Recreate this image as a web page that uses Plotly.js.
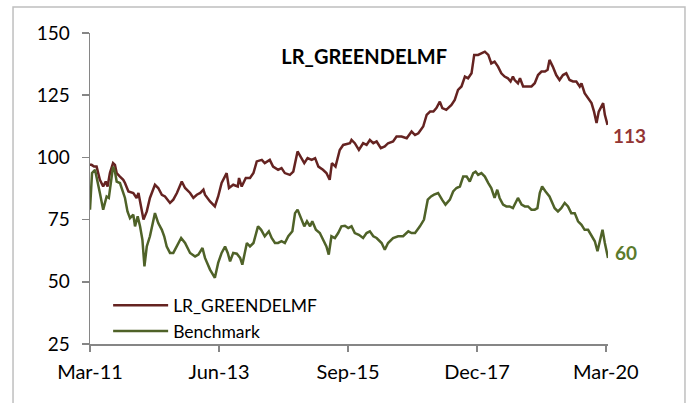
<!DOCTYPE html>
<html>
<head>
<meta charset="utf-8">
<script src="https://cdn.plot.ly/plotly-3.0.1.min.js"></script>
<style>html,body{margin:0;padding:0;background:#fff;}#chart{width:691px;height:403px;}</style>
</head>
<body>
<div id="chart"></div>
<script>
const fundName = "LR_GREENDELMF";
const benchName = "Benchmark";

const fundDates = ["2011-03-01","2011-03-11","2011-03-27","2011-04-12","2011-05-03","2011-05-24","2011-06-09","2011-06-21","2011-07-06","2011-07-26","2011-08-07","2011-08-18","2011-09-08","2011-09-29","2011-10-10","2011-11-01","2011-12-02","2011-12-23","2012-01-04","2012-01-20","2012-02-05","2012-02-26","2012-03-17","2012-04-18","2012-05-09","2012-06-01","2012-06-21","2012-07-23","2012-08-13","2012-09-05","2012-10-06","2012-10-27","2012-11-28","2012-12-19","2013-01-10","2013-02-01","2013-02-21","2013-03-03","2013-04-04","2013-05-05","2013-05-26","2013-06-17","2013-07-19","2013-08-03","2013-08-30","2013-09-28","2013-10-06","2013-10-23","2013-11-18","2013-12-15","2014-01-06","2014-01-27","2014-02-28","2014-03-19","2014-04-20","2014-05-11","2014-06-12","2014-07-04","2014-07-25","2014-08-26","2014-09-17","2014-10-14","2014-11-05","2014-11-26","2014-12-17","2015-01-12","2015-02-03","2015-02-24","2015-03-25","2015-04-16","2015-05-07","2015-05-21","2015-06-13","2015-07-10","2015-08-01","2015-09-13","2015-09-23","2015-10-14","2015-11-09","2015-12-06","2015-12-28","2016-01-18","2016-02-09","2016-03-01","2016-03-28","2016-04-22","2016-05-13","2016-06-14","2016-07-06","2016-08-07","2016-09-09","2016-10-10","2016-11-01","2016-11-22","2016-12-23","2017-01-14","2017-02-05","2017-02-26","2017-03-17","2017-04-08","2017-04-24","2017-05-19","2017-06-21","2017-07-12","2017-08-02","2017-08-24","2017-09-15","2017-10-05","2017-10-27","2017-11-13","2017-12-08","2017-12-29","2018-01-20","2018-02-11","2018-03-02","2018-03-23","2018-04-14","2018-05-05","2018-05-26","2018-06-16","2018-07-03","2018-07-18","2018-07-29","2018-08-19","2018-09-01","2018-09-21","2018-10-22","2018-11-13","2018-12-04","2018-12-25","2019-01-16","2019-02-07","2019-02-24","2019-03-08","2019-03-29","2019-04-20","2019-05-11","2019-06-02","2019-06-23","2019-07-14","2019-08-05","2019-08-26","2019-09-17","2019-09-28","2019-10-18","2019-11-09","2019-12-01","2019-12-17","2020-01-02","2020-01-16","2020-01-29","2020-02-13","2020-02-24","2020-03-12"];
const fundValues = [97,97.0,96.3,96.3,91,88.3,90.3,88.3,93.7,97.7,97,93.7,92.3,91,89.7,86.3,85.7,83.7,85.7,81,75,78.3,83.7,89,87.7,85,84.3,81.7,83,85.7,90.3,87.7,85.7,83.7,85,85.7,87,85,82.3,80.3,84.3,89.7,93.7,87.7,89,88.3,91.7,88.3,91.7,91.7,93.7,98.4,99,97.7,99,96.3,95,95.7,93.7,93,94.3,102.4,99.7,97.7,99.7,99,99.7,96.3,95,93.7,91,97.7,96.3,103,105,105.7,107,105.7,103,105.7,105,107,105.7,106.4,103.7,104.4,105.7,106.4,108.4,108.4,107.7,110.4,109,109.7,112.4,117.1,118.4,118.4,119.8,122.4,119.8,119.1,121.1,123.1,127.1,128.5,132.5,131.8,133.8,141.2,141.2,141.9,142.5,141.2,137.8,138.5,136.5,133.8,132.5,131.8,130.5,132.5,131.1,129.8,131.8,128.5,128.5,128.5,129.8,133.1,134.5,134.5,135.2,139.2,136.5,133.1,131.1,133.1,133.8,131.1,130.5,130.5,128.5,129.8,125.8,123.8,121.8,118.4,113.8,118.4,119.8,121.8,117.1,113.1];

const benchDates = ["2011-03-01","2011-03-14","2011-04-02","2011-04-12","2011-05-03","2011-05-24","2011-06-15","2011-06-29","2011-07-16","2011-07-26","2011-08-07","2011-08-18","2011-09-08","2011-09-29","2011-10-10","2011-10-26","2011-11-11","2011-12-02","2011-12-13","2011-12-30","2012-01-14","2012-01-29","2012-02-11","2012-02-26","2012-03-17","2012-04-18","2012-05-09","2012-06-01","2012-06-16","2012-07-02","2012-07-23","2012-08-13","2012-09-05","2012-10-02","2012-10-27","2012-11-28","2012-12-30","2013-01-20","2013-02-15","2013-03-03","2013-04-04","2013-04-25","2013-05-05","2013-05-26","2013-06-17","2013-07-09","2013-07-26","2013-08-10","2013-08-30","2013-09-22","2013-10-13","2013-10-27","2013-11-14","2013-11-25","2013-12-15","2014-01-06","2014-02-04","2014-02-24","2014-03-19","2014-04-14","2014-05-02","2014-05-23","2014-06-12","2014-07-04","2014-07-25","2014-08-16","2014-09-11","2014-09-28","2014-10-14","2014-11-05","2014-11-26","2014-12-13","2015-01-02","2015-01-16","2015-02-08","2015-03-05","2015-03-25","2015-04-16","2015-05-01","2015-05-18","2015-06-09","2015-06-30","2015-07-21","2015-08-12","2015-09-02","2015-09-23","2015-10-14","2015-11-09","2015-12-06","2015-12-28","2016-01-18","2016-02-09","2016-03-01","2016-04-02","2016-04-22","2016-05-13","2016-06-14","2016-07-16","2016-08-17","2016-09-19","2016-10-10","2016-11-01","2016-12-02","2016-12-28","2017-01-21","2017-02-11","2017-03-02","2017-03-28","2017-04-22","2017-05-14","2017-06-11","2017-07-02","2017-07-23","2017-08-14","2017-09-04","2017-09-26","2017-10-16","2017-11-07","2017-11-22","2017-12-08","2017-12-29","2018-01-20","2018-02-11","2018-03-02","2018-03-23","2018-04-09","2018-04-24","2018-05-16","2018-06-06","2018-06-27","2018-07-18","2018-08-09","2018-08-19","2018-09-11","2018-10-02","2018-10-22","2018-11-13","2018-12-04","2018-12-21","2019-01-05","2019-01-20","2019-02-11","2019-03-08","2019-04-10","2019-05-01","2019-05-22","2019-06-13","2019-07-04","2019-07-25","2019-08-16","2019-09-06","2019-09-28","2019-10-18","2019-11-09","2019-12-01","2019-12-22","2020-01-08","2020-01-23","2020-02-09","2020-02-24","2020-03-15"];
const benchValues = [79,93.7,95,92.3,85.7,79,84.3,83.7,91.7,96.3,94.3,90.3,89.7,85.7,83.7,78.3,75.6,77,72.3,76.3,72.3,66.9,56.2,64.2,68.3,77.6,73.6,70.9,68.3,64.2,61.6,61.6,64.2,67.6,65.6,61.6,60.2,60.9,63.6,59.6,54.9,53,51.6,57.6,61.6,64.2,61.6,58.2,61.6,61.3,59.6,56.9,62.9,65.6,64.2,65.6,72.3,70.9,68.3,70.3,67.6,65.6,65.6,66.3,65.6,68.3,70.3,77.6,79,75.6,72.3,74.3,72.3,74.3,70.9,69.6,66.9,64.2,60.9,68.3,67.6,69.6,72.3,72.5,71.6,72.3,69.6,68.9,67.6,69.6,70.3,68.3,67.6,65.6,62.9,65.6,67.6,68.3,68.3,70.3,69.6,69.6,72.3,75,83,84.3,85,85.7,83,81,83,86.3,87.7,88.3,92.3,92.3,90.3,93.7,94.3,93,93.7,92.3,89.7,87.7,83.7,87,83.7,81,80.3,80.3,79.6,82.3,83.7,81,80.3,80.3,79,79,79.6,85.7,88.3,86.3,84.3,79.6,78.3,79.6,81.7,80.3,77.6,77.6,74.3,72.9,70.9,70.9,68.3,66.3,62.3,66.9,70.9,65.6,59.6];

const tickDates = ["2011-03-01","2013-06-01","2015-09-01","2017-12-01","2020-03-01"];
const tickLabels = ["Mar-11","Jun-13","Sep-15","Dec-17","Mar-20"];
const yTicks = [25,50,75,100,125,150];
const fundEndLabel = "113";
const benchEndLabel = "60";

const fundColor = "#652321";
const benchColor = "#4F6228";
const fundLabelColor = "#943634";
const benchLabelColor = "#5B7A2C";
const axisColor = "#868686";
const fontFam = "Lato, 'Open Sans', sans-serif";

const traces = [
  {x: fundDates, y: fundValues, type: "scatter", mode: "lines", name: fundName,
   line: {color: fundColor, width: 2.5}},
  {x: benchDates, y: benchValues, type: "scatter", mode: "lines", name: benchName,
   line: {color: benchColor, width: 2.5}}
];

const layout = {
  width: 691, height: 403,
  margin: {l: 90, r: 83, t: 33, b: 59},
  paper_bgcolor: "#fff", plot_bgcolor: "#fff",
  font: {family: fontFam, color: "#000", size: 18},
  title: {text: "<b>" + fundName + "</b>", font: {family: fontFam, size: 20, color: "#000"},
          x: 0.527, xanchor: "center", y: 0.858, yanchor: "middle"},
  xaxis: {type: "date", range: ["2011-03-01", "2020-03-15"], tickmode: "array",
          tickvals: tickDates, ticktext: tickLabels, showgrid: false, zeroline: false,
          showline: true, linecolor: axisColor, linewidth: 1.5,
          ticks: "outside", ticklen: 6, tickwidth: 1.5, tickcolor: axisColor,
          tickfont: {size: 20, family: fontFam, color: "#000"}, ticklabelstandoff: 3},
  yaxis: {range: [25, 150], tickmode: "array", tickvals: yTicks, showgrid: false, zeroline: false,
          showline: true, linecolor: axisColor, linewidth: 1.5,
          ticks: "outside", ticklen: 7, tickwidth: 1.5, tickcolor: axisColor,
          tickfont: {size: 19, family: fontFam, color: "#000"}, ticklabelstandoff: 8},
  showlegend: true,
  legend: {x: 0.035, y: 0.182, xanchor: "left", yanchor: "top", bgcolor: "rgba(0,0,0,0)",
           font: {size: 17.5, family: fontFam, color: "#000"}, itemwidth: 55, tracegroupgap: 0},
  annotations: [
    {x: fundDates[fundDates.length-1], y: fundValues[fundValues.length-1], xref: "x", yref: "y",
     text: "<b>" + fundEndLabel + "</b>", showarrow: false, xanchor: "left", yanchor: "middle",
     xshift: 3, yshift: -11, font: {size: 19, family: fontFam, color: fundLabelColor}},
    {x: benchDates[benchDates.length-1], y: benchValues[benchValues.length-1], xref: "x", yref: "y",
     text: "<b>" + benchEndLabel + "</b>", showarrow: false, xanchor: "left", yanchor: "middle",
     xshift: 5, yshift: 5, font: {size: 19, family: fontFam, color: benchLabelColor}}
  ],
  shapes: [
    {type: "rect", xref: "paper", yref: "paper", x0: -0.1486, x1: 1.1486, y0: -0.3, y1: 1.0836,
     line: {color: "#BFBFBF", width: 1.5}, fillcolor: "rgba(0,0,0,0)", layer: "below"}
  ]
};

Plotly.newPlot("chart", traces, layout, {displayModeBar: false, staticPlot: true});
</script>
</body>
</html>
